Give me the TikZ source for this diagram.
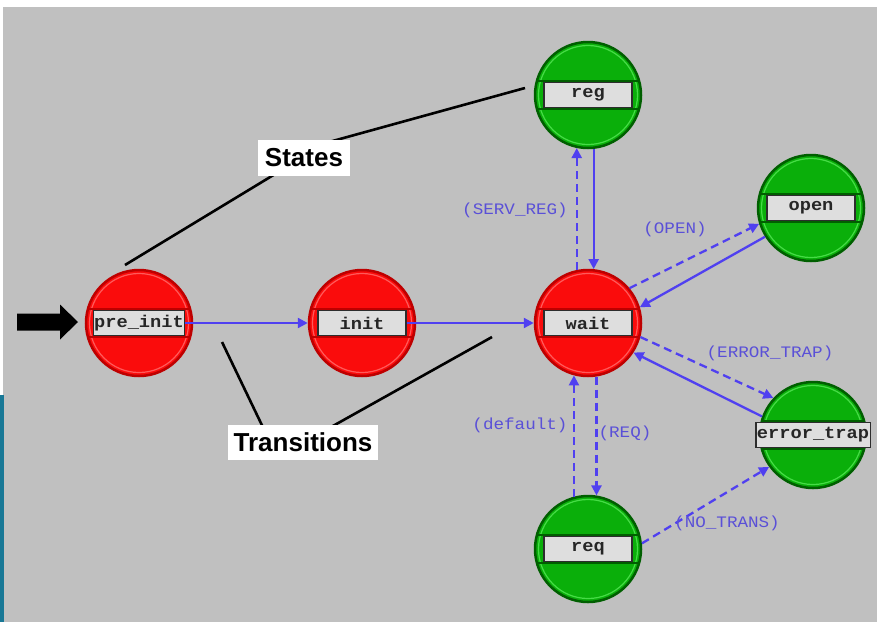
\documentclass[tikz,border=0pt]{standalone}
\usepackage{fontspec}
\setmainfont{Liberation Sans}
\newfontfamily\stmono[FakeStretch=1.1]{Liberation Mono}
\usetikzlibrary{arrows.meta,calc}
\definecolor{bggray}{RGB}{192,192,192}
\definecolor{stred}{RGB}{250,12,12}
\definecolor{stredrim}{RGB}{190,0,0}
\definecolor{stredlight}{RGB}{255,90,90}
\definecolor{stgreen}{RGB}{10,175,10}
\definecolor{stgreenrim}{RGB}{0,95,0}
\definecolor{stgreenlight}{RGB}{70,220,70}
\definecolor{boxgray}{RGB}{222,222,222}
\definecolor{boxline}{RGB}{45,45,45}
\definecolor{trblue}{RGB}{80,64,240}
\definecolor{trtext}{RGB}{90,80,215}
\definecolor{tealbar}{RGB}{25,120,150}
\begin{document}
\begin{tikzpicture}[x=1pt,y=-1pt,
  stnode/.style={circle,minimum size=106pt,inner sep=0pt,line width=2.5pt},
  redstate/.style={stnode,fill=stred,draw=stredrim},
  greenstate/.style={stnode,fill=stgreen,draw=stgreenrim},
  namebox/.style={rectangle,fill=boxgray,draw=boxline,line width=1.2pt,minimum width=88pt,minimum height=25pt,inner xsep=1pt,inner ysep=0pt,font=\stmono\bfseries\fontsize{17}{17}\selectfont,text=black!85},
  trans/.style={draw=trblue,line width=2.3pt,-{Triangle[length=10pt,width=10pt]}},
  transdash/.style={trans,dash pattern=on 8pt off 5pt},
  trlabel/.style={font=\stmono\fontsize{16}{16}\selectfont,text=trtext,inner sep=0pt},
  annot/.style={draw=black,line width=2.6pt},
  annotlabel/.style={fill=white,font=\bfseries\fontsize{26}{26}\selectfont,inner sep=0pt}
]
\useasboundingbox (0,0) rectangle (877,622);
\fill[white] (0,0) rectangle (877,622);
\fill[bggray] (3,7) rectangle (877,622);
\fill[tealbar] (0,395) rectangle (4,622);

% states
\node[redstate] (pi) at (139,323) {};
\node[redstate] (init) at (362,323) {};
\node[redstate] (wait) at (588,323) {};
\node[greenstate] (reg) at (588,95) {};
\node[greenstate] (open) at (811,208) {};
\node[greenstate] (err) at (813,435) {};
\node[greenstate] (req) at (588,549) {};

\foreach \n/\rim/\lt in {pi/stredrim/stredlight,init/stredrim/stredlight,wait/stredrim/stredlight,
  reg/stgreenrim/stgreenlight,open/stgreenrim/stgreenlight,err/stgreenrim/stgreenlight,req/stgreenrim/stgreenlight}{
  \draw[\lt,line width=1.2pt] (\n.center) circle[radius=49.5pt];
  \draw[\rim,line width=1.6pt] ([shift={(-50,-14)}]\n.center) -- ([shift={(50,-14)}]\n.center);
  \draw[\rim,line width=1.6pt] ([shift={(-50,14)}]\n.center) -- ([shift={(50,14)}]\n.center);
}

\node[namebox] (pib) at (pi) {pre\_init};
\node[namebox] (initb) at (init) {init};
\node[namebox] (waitb) at (wait) {wait};
\node[namebox] (regb) at (reg) {reg};
\node[namebox] (openb) at (open) {open};
\node[namebox] (errb) at (err) {error\_trap};
\node[namebox] (reqb) at (req) {req};

% transitions
\draw[trans] (pib.east) -- (init.west);
\draw[trans] (initb.east) -- (wait.west);
\draw[transdash] (wait.102) -- (reg.258);
\draw[trans] (reg.276) -- (wait.84);
\draw[transdash] (wait.40) -- (open.197);
\draw[trans] (open.212) -- (wait.17);
\draw[transdash] (wait.345) -- (err.137);
\draw[trans] (err.160) -- (wait.327);
\draw[transdash] (wait.279) -- (req.81);
\draw[transdash] (req.105) -- (wait.255);
\draw[transdash] (req.6) -- (err.216);

% transition labels
\node[trlabel] (lsr) at (515,210) {(SERV\_REG)};
\node[trlabel] (lop) at (675,229) {(OPEN)};
\node[trlabel] (let) at (770,353) {(ERROR\_TRAP)};
\node[trlabel] (lrq) at (625,433) {(REQ)};
\node[trlabel] (ldf) at (520,425) {(default)};
\node[trlabel] (lnt) at (727,523) {(NO\_TRANS)};

% initial arrow
\coordinate (ia) at (17,322);
\fill[black] (ia) ++(0,-8.5) -- ++(43,0) -- ++(0,-9) -- (78,322) -- (60,339.5) -- ++(0,-9) -- (17,330.5) -- cycle;

% annotations
\coordinate (sa1) at (300,150);
\coordinate (sreg) at (525,88);
\coordinate (sa2) at (290,165);
\coordinate (spi) at (125,265);
\coordinate (ta1) at (270,442);
\coordinate (tpi) at (222,342);
\coordinate (ta2) at (315,436);
\coordinate (twt) at (492,337);
\draw[annot] (sa1) -- (sreg);
\draw[annot] (sa2) -- (spi);
\draw[annot] (ta1) -- (tpi);
\draw[annot] (ta2) -- (twt);
\node[annotlabel,minimum width=92pt,minimum height=36pt] (states) at (304,158) {States};
\node[annotlabel,minimum width=150pt,minimum height=35pt] (transl) at (303,442) {Transitions};
\end{tikzpicture}
\end{document}
